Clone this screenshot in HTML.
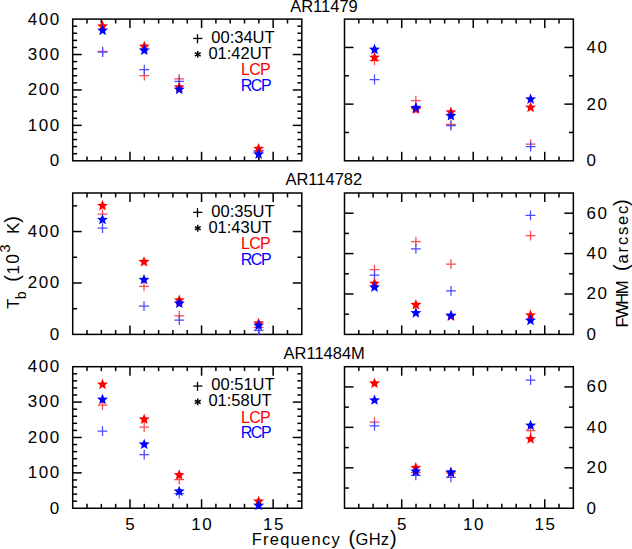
<!DOCTYPE html>
<html><head><meta charset="utf-8"><style>
html,body{margin:0;padding:0;background:#fff;width:632px;height:549px;overflow:hidden}
svg{display:block}
text{font-family:"Liberation Sans",sans-serif}
</style></head><body>
<svg width="632" height="549" viewBox="0 0 632 549">
<rect x="72.70" y="19.10" width="229.10" height="141.70" fill="none" stroke="#000" stroke-width="1.5"/>
<line x1="87.02" y1="160.80" x2="87.02" y2="156.40" stroke="#000" stroke-width="1.5"/>
<line x1="87.02" y1="19.10" x2="87.02" y2="23.50" stroke="#000" stroke-width="1.5"/>
<line x1="101.34" y1="160.80" x2="101.34" y2="156.40" stroke="#000" stroke-width="1.5"/>
<line x1="101.34" y1="19.10" x2="101.34" y2="23.50" stroke="#000" stroke-width="1.5"/>
<line x1="115.66" y1="160.80" x2="115.66" y2="156.40" stroke="#000" stroke-width="1.5"/>
<line x1="115.66" y1="19.10" x2="115.66" y2="23.50" stroke="#000" stroke-width="1.5"/>
<line x1="129.97" y1="160.80" x2="129.97" y2="151.80" stroke="#000" stroke-width="1.5"/>
<line x1="129.97" y1="19.10" x2="129.97" y2="28.10" stroke="#000" stroke-width="1.5"/>
<line x1="144.29" y1="160.80" x2="144.29" y2="156.40" stroke="#000" stroke-width="1.5"/>
<line x1="144.29" y1="19.10" x2="144.29" y2="23.50" stroke="#000" stroke-width="1.5"/>
<line x1="158.61" y1="160.80" x2="158.61" y2="156.40" stroke="#000" stroke-width="1.5"/>
<line x1="158.61" y1="19.10" x2="158.61" y2="23.50" stroke="#000" stroke-width="1.5"/>
<line x1="172.93" y1="160.80" x2="172.93" y2="156.40" stroke="#000" stroke-width="1.5"/>
<line x1="172.93" y1="19.10" x2="172.93" y2="23.50" stroke="#000" stroke-width="1.5"/>
<line x1="187.25" y1="160.80" x2="187.25" y2="156.40" stroke="#000" stroke-width="1.5"/>
<line x1="187.25" y1="19.10" x2="187.25" y2="23.50" stroke="#000" stroke-width="1.5"/>
<line x1="201.57" y1="160.80" x2="201.57" y2="151.80" stroke="#000" stroke-width="1.5"/>
<line x1="201.57" y1="19.10" x2="201.57" y2="28.10" stroke="#000" stroke-width="1.5"/>
<line x1="215.89" y1="160.80" x2="215.89" y2="156.40" stroke="#000" stroke-width="1.5"/>
<line x1="215.89" y1="19.10" x2="215.89" y2="23.50" stroke="#000" stroke-width="1.5"/>
<line x1="230.21" y1="160.80" x2="230.21" y2="156.40" stroke="#000" stroke-width="1.5"/>
<line x1="230.21" y1="19.10" x2="230.21" y2="23.50" stroke="#000" stroke-width="1.5"/>
<line x1="244.52" y1="160.80" x2="244.52" y2="156.40" stroke="#000" stroke-width="1.5"/>
<line x1="244.52" y1="19.10" x2="244.52" y2="23.50" stroke="#000" stroke-width="1.5"/>
<line x1="258.84" y1="160.80" x2="258.84" y2="156.40" stroke="#000" stroke-width="1.5"/>
<line x1="258.84" y1="19.10" x2="258.84" y2="23.50" stroke="#000" stroke-width="1.5"/>
<line x1="273.16" y1="160.80" x2="273.16" y2="151.80" stroke="#000" stroke-width="1.5"/>
<line x1="273.16" y1="19.10" x2="273.16" y2="28.10" stroke="#000" stroke-width="1.5"/>
<line x1="287.48" y1="160.80" x2="287.48" y2="156.40" stroke="#000" stroke-width="1.5"/>
<line x1="287.48" y1="19.10" x2="287.48" y2="23.50" stroke="#000" stroke-width="1.5"/>
<line x1="72.70" y1="153.71" x2="77.10" y2="153.71" stroke="#000" stroke-width="1.5"/>
<line x1="301.80" y1="153.71" x2="297.40" y2="153.71" stroke="#000" stroke-width="1.5"/>
<line x1="72.70" y1="146.63" x2="77.10" y2="146.63" stroke="#000" stroke-width="1.5"/>
<line x1="301.80" y1="146.63" x2="297.40" y2="146.63" stroke="#000" stroke-width="1.5"/>
<line x1="72.70" y1="139.54" x2="77.10" y2="139.54" stroke="#000" stroke-width="1.5"/>
<line x1="301.80" y1="139.54" x2="297.40" y2="139.54" stroke="#000" stroke-width="1.5"/>
<line x1="72.70" y1="132.46" x2="77.10" y2="132.46" stroke="#000" stroke-width="1.5"/>
<line x1="301.80" y1="132.46" x2="297.40" y2="132.46" stroke="#000" stroke-width="1.5"/>
<line x1="72.70" y1="125.37" x2="81.70" y2="125.37" stroke="#000" stroke-width="1.5"/>
<line x1="301.80" y1="125.37" x2="292.80" y2="125.37" stroke="#000" stroke-width="1.5"/>
<line x1="72.70" y1="118.29" x2="77.10" y2="118.29" stroke="#000" stroke-width="1.5"/>
<line x1="301.80" y1="118.29" x2="297.40" y2="118.29" stroke="#000" stroke-width="1.5"/>
<line x1="72.70" y1="111.20" x2="77.10" y2="111.20" stroke="#000" stroke-width="1.5"/>
<line x1="301.80" y1="111.20" x2="297.40" y2="111.20" stroke="#000" stroke-width="1.5"/>
<line x1="72.70" y1="104.12" x2="77.10" y2="104.12" stroke="#000" stroke-width="1.5"/>
<line x1="301.80" y1="104.12" x2="297.40" y2="104.12" stroke="#000" stroke-width="1.5"/>
<line x1="72.70" y1="97.03" x2="77.10" y2="97.03" stroke="#000" stroke-width="1.5"/>
<line x1="301.80" y1="97.03" x2="297.40" y2="97.03" stroke="#000" stroke-width="1.5"/>
<line x1="72.70" y1="89.95" x2="81.70" y2="89.95" stroke="#000" stroke-width="1.5"/>
<line x1="301.80" y1="89.95" x2="292.80" y2="89.95" stroke="#000" stroke-width="1.5"/>
<line x1="72.70" y1="82.86" x2="77.10" y2="82.86" stroke="#000" stroke-width="1.5"/>
<line x1="301.80" y1="82.86" x2="297.40" y2="82.86" stroke="#000" stroke-width="1.5"/>
<line x1="72.70" y1="75.78" x2="77.10" y2="75.78" stroke="#000" stroke-width="1.5"/>
<line x1="301.80" y1="75.78" x2="297.40" y2="75.78" stroke="#000" stroke-width="1.5"/>
<line x1="72.70" y1="68.69" x2="77.10" y2="68.69" stroke="#000" stroke-width="1.5"/>
<line x1="301.80" y1="68.69" x2="297.40" y2="68.69" stroke="#000" stroke-width="1.5"/>
<line x1="72.70" y1="61.61" x2="77.10" y2="61.61" stroke="#000" stroke-width="1.5"/>
<line x1="301.80" y1="61.61" x2="297.40" y2="61.61" stroke="#000" stroke-width="1.5"/>
<line x1="72.70" y1="54.52" x2="81.70" y2="54.52" stroke="#000" stroke-width="1.5"/>
<line x1="301.80" y1="54.52" x2="292.80" y2="54.52" stroke="#000" stroke-width="1.5"/>
<line x1="72.70" y1="47.44" x2="77.10" y2="47.44" stroke="#000" stroke-width="1.5"/>
<line x1="301.80" y1="47.44" x2="297.40" y2="47.44" stroke="#000" stroke-width="1.5"/>
<line x1="72.70" y1="40.36" x2="77.10" y2="40.36" stroke="#000" stroke-width="1.5"/>
<line x1="301.80" y1="40.36" x2="297.40" y2="40.36" stroke="#000" stroke-width="1.5"/>
<line x1="72.70" y1="33.27" x2="77.10" y2="33.27" stroke="#000" stroke-width="1.5"/>
<line x1="301.80" y1="33.27" x2="297.40" y2="33.27" stroke="#000" stroke-width="1.5"/>
<line x1="72.70" y1="26.19" x2="77.10" y2="26.19" stroke="#000" stroke-width="1.5"/>
<line x1="301.80" y1="26.19" x2="297.40" y2="26.19" stroke="#000" stroke-width="1.5"/>
<text x="60.70" y="166.20" font-size="17" text-anchor="end" fill="#000" letter-spacing="1.5" >0</text>
<text x="60.70" y="130.77" font-size="17" text-anchor="end" fill="#000" letter-spacing="1.5" >100</text>
<text x="60.70" y="95.35" font-size="17" text-anchor="end" fill="#000" letter-spacing="1.5" >200</text>
<text x="60.70" y="59.92" font-size="17" text-anchor="end" fill="#000" letter-spacing="1.5" >300</text>
<text x="60.70" y="24.50" font-size="17" text-anchor="end" fill="#000" letter-spacing="1.5" >400</text>
<rect x="344.50" y="19.10" width="228.85" height="141.70" fill="none" stroke="#000" stroke-width="1.5"/>
<line x1="358.80" y1="160.80" x2="358.80" y2="156.40" stroke="#000" stroke-width="1.5"/>
<line x1="358.80" y1="19.10" x2="358.80" y2="23.50" stroke="#000" stroke-width="1.5"/>
<line x1="373.11" y1="160.80" x2="373.11" y2="156.40" stroke="#000" stroke-width="1.5"/>
<line x1="373.11" y1="19.10" x2="373.11" y2="23.50" stroke="#000" stroke-width="1.5"/>
<line x1="387.41" y1="160.80" x2="387.41" y2="156.40" stroke="#000" stroke-width="1.5"/>
<line x1="387.41" y1="19.10" x2="387.41" y2="23.50" stroke="#000" stroke-width="1.5"/>
<line x1="401.71" y1="160.80" x2="401.71" y2="151.80" stroke="#000" stroke-width="1.5"/>
<line x1="401.71" y1="19.10" x2="401.71" y2="28.10" stroke="#000" stroke-width="1.5"/>
<line x1="416.02" y1="160.80" x2="416.02" y2="156.40" stroke="#000" stroke-width="1.5"/>
<line x1="416.02" y1="19.10" x2="416.02" y2="23.50" stroke="#000" stroke-width="1.5"/>
<line x1="430.32" y1="160.80" x2="430.32" y2="156.40" stroke="#000" stroke-width="1.5"/>
<line x1="430.32" y1="19.10" x2="430.32" y2="23.50" stroke="#000" stroke-width="1.5"/>
<line x1="444.62" y1="160.80" x2="444.62" y2="156.40" stroke="#000" stroke-width="1.5"/>
<line x1="444.62" y1="19.10" x2="444.62" y2="23.50" stroke="#000" stroke-width="1.5"/>
<line x1="458.93" y1="160.80" x2="458.93" y2="156.40" stroke="#000" stroke-width="1.5"/>
<line x1="458.93" y1="19.10" x2="458.93" y2="23.50" stroke="#000" stroke-width="1.5"/>
<line x1="473.23" y1="160.80" x2="473.23" y2="151.80" stroke="#000" stroke-width="1.5"/>
<line x1="473.23" y1="19.10" x2="473.23" y2="28.10" stroke="#000" stroke-width="1.5"/>
<line x1="487.53" y1="160.80" x2="487.53" y2="156.40" stroke="#000" stroke-width="1.5"/>
<line x1="487.53" y1="19.10" x2="487.53" y2="23.50" stroke="#000" stroke-width="1.5"/>
<line x1="501.83" y1="160.80" x2="501.83" y2="156.40" stroke="#000" stroke-width="1.5"/>
<line x1="501.83" y1="19.10" x2="501.83" y2="23.50" stroke="#000" stroke-width="1.5"/>
<line x1="516.14" y1="160.80" x2="516.14" y2="156.40" stroke="#000" stroke-width="1.5"/>
<line x1="516.14" y1="19.10" x2="516.14" y2="23.50" stroke="#000" stroke-width="1.5"/>
<line x1="530.44" y1="160.80" x2="530.44" y2="156.40" stroke="#000" stroke-width="1.5"/>
<line x1="530.44" y1="19.10" x2="530.44" y2="23.50" stroke="#000" stroke-width="1.5"/>
<line x1="544.74" y1="160.80" x2="544.74" y2="151.80" stroke="#000" stroke-width="1.5"/>
<line x1="544.74" y1="19.10" x2="544.74" y2="28.10" stroke="#000" stroke-width="1.5"/>
<line x1="559.05" y1="160.80" x2="559.05" y2="156.40" stroke="#000" stroke-width="1.5"/>
<line x1="559.05" y1="19.10" x2="559.05" y2="23.50" stroke="#000" stroke-width="1.5"/>
<line x1="344.50" y1="132.46" x2="348.90" y2="132.46" stroke="#000" stroke-width="1.5"/>
<line x1="573.35" y1="132.46" x2="568.95" y2="132.46" stroke="#000" stroke-width="1.5"/>
<line x1="344.50" y1="104.12" x2="353.50" y2="104.12" stroke="#000" stroke-width="1.5"/>
<line x1="573.35" y1="104.12" x2="564.35" y2="104.12" stroke="#000" stroke-width="1.5"/>
<line x1="344.50" y1="75.78" x2="348.90" y2="75.78" stroke="#000" stroke-width="1.5"/>
<line x1="573.35" y1="75.78" x2="568.95" y2="75.78" stroke="#000" stroke-width="1.5"/>
<line x1="344.50" y1="47.44" x2="353.50" y2="47.44" stroke="#000" stroke-width="1.5"/>
<line x1="573.35" y1="47.44" x2="564.35" y2="47.44" stroke="#000" stroke-width="1.5"/>
<text x="586.50" y="166.20" font-size="17" text-anchor="start" fill="#000" letter-spacing="1.5" >0</text>
<text x="586.50" y="109.52" font-size="17" text-anchor="start" fill="#000" letter-spacing="1.5" >20</text>
<text x="586.50" y="52.84" font-size="17" text-anchor="start" fill="#000" letter-spacing="1.5" >40</text>
<rect x="72.70" y="193.00" width="229.10" height="141.40" fill="none" stroke="#000" stroke-width="1.5"/>
<line x1="87.02" y1="334.40" x2="87.02" y2="330.00" stroke="#000" stroke-width="1.5"/>
<line x1="87.02" y1="193.00" x2="87.02" y2="197.40" stroke="#000" stroke-width="1.5"/>
<line x1="101.34" y1="334.40" x2="101.34" y2="330.00" stroke="#000" stroke-width="1.5"/>
<line x1="101.34" y1="193.00" x2="101.34" y2="197.40" stroke="#000" stroke-width="1.5"/>
<line x1="115.66" y1="334.40" x2="115.66" y2="330.00" stroke="#000" stroke-width="1.5"/>
<line x1="115.66" y1="193.00" x2="115.66" y2="197.40" stroke="#000" stroke-width="1.5"/>
<line x1="129.97" y1="334.40" x2="129.97" y2="325.40" stroke="#000" stroke-width="1.5"/>
<line x1="129.97" y1="193.00" x2="129.97" y2="202.00" stroke="#000" stroke-width="1.5"/>
<line x1="144.29" y1="334.40" x2="144.29" y2="330.00" stroke="#000" stroke-width="1.5"/>
<line x1="144.29" y1="193.00" x2="144.29" y2="197.40" stroke="#000" stroke-width="1.5"/>
<line x1="158.61" y1="334.40" x2="158.61" y2="330.00" stroke="#000" stroke-width="1.5"/>
<line x1="158.61" y1="193.00" x2="158.61" y2="197.40" stroke="#000" stroke-width="1.5"/>
<line x1="172.93" y1="334.40" x2="172.93" y2="330.00" stroke="#000" stroke-width="1.5"/>
<line x1="172.93" y1="193.00" x2="172.93" y2="197.40" stroke="#000" stroke-width="1.5"/>
<line x1="187.25" y1="334.40" x2="187.25" y2="330.00" stroke="#000" stroke-width="1.5"/>
<line x1="187.25" y1="193.00" x2="187.25" y2="197.40" stroke="#000" stroke-width="1.5"/>
<line x1="201.57" y1="334.40" x2="201.57" y2="325.40" stroke="#000" stroke-width="1.5"/>
<line x1="201.57" y1="193.00" x2="201.57" y2="202.00" stroke="#000" stroke-width="1.5"/>
<line x1="215.89" y1="334.40" x2="215.89" y2="330.00" stroke="#000" stroke-width="1.5"/>
<line x1="215.89" y1="193.00" x2="215.89" y2="197.40" stroke="#000" stroke-width="1.5"/>
<line x1="230.21" y1="334.40" x2="230.21" y2="330.00" stroke="#000" stroke-width="1.5"/>
<line x1="230.21" y1="193.00" x2="230.21" y2="197.40" stroke="#000" stroke-width="1.5"/>
<line x1="244.52" y1="334.40" x2="244.52" y2="330.00" stroke="#000" stroke-width="1.5"/>
<line x1="244.52" y1="193.00" x2="244.52" y2="197.40" stroke="#000" stroke-width="1.5"/>
<line x1="258.84" y1="334.40" x2="258.84" y2="330.00" stroke="#000" stroke-width="1.5"/>
<line x1="258.84" y1="193.00" x2="258.84" y2="197.40" stroke="#000" stroke-width="1.5"/>
<line x1="273.16" y1="334.40" x2="273.16" y2="325.40" stroke="#000" stroke-width="1.5"/>
<line x1="273.16" y1="193.00" x2="273.16" y2="202.00" stroke="#000" stroke-width="1.5"/>
<line x1="287.48" y1="334.40" x2="287.48" y2="330.00" stroke="#000" stroke-width="1.5"/>
<line x1="287.48" y1="193.00" x2="287.48" y2="197.40" stroke="#000" stroke-width="1.5"/>
<line x1="72.70" y1="308.69" x2="77.10" y2="308.69" stroke="#000" stroke-width="1.5"/>
<line x1="301.80" y1="308.69" x2="297.40" y2="308.69" stroke="#000" stroke-width="1.5"/>
<line x1="72.70" y1="282.98" x2="81.70" y2="282.98" stroke="#000" stroke-width="1.5"/>
<line x1="301.80" y1="282.98" x2="292.80" y2="282.98" stroke="#000" stroke-width="1.5"/>
<line x1="72.70" y1="257.27" x2="77.10" y2="257.27" stroke="#000" stroke-width="1.5"/>
<line x1="301.80" y1="257.27" x2="297.40" y2="257.27" stroke="#000" stroke-width="1.5"/>
<line x1="72.70" y1="231.56" x2="81.70" y2="231.56" stroke="#000" stroke-width="1.5"/>
<line x1="301.80" y1="231.56" x2="292.80" y2="231.56" stroke="#000" stroke-width="1.5"/>
<line x1="72.70" y1="205.85" x2="77.10" y2="205.85" stroke="#000" stroke-width="1.5"/>
<line x1="301.80" y1="205.85" x2="297.40" y2="205.85" stroke="#000" stroke-width="1.5"/>
<text x="60.70" y="339.80" font-size="17" text-anchor="end" fill="#000" letter-spacing="1.5" >0</text>
<text x="60.70" y="288.38" font-size="17" text-anchor="end" fill="#000" letter-spacing="1.5" >200</text>
<text x="60.70" y="236.96" font-size="17" text-anchor="end" fill="#000" letter-spacing="1.5" >400</text>
<rect x="344.50" y="193.00" width="228.85" height="141.40" fill="none" stroke="#000" stroke-width="1.5"/>
<line x1="358.80" y1="334.40" x2="358.80" y2="330.00" stroke="#000" stroke-width="1.5"/>
<line x1="358.80" y1="193.00" x2="358.80" y2="197.40" stroke="#000" stroke-width="1.5"/>
<line x1="373.11" y1="334.40" x2="373.11" y2="330.00" stroke="#000" stroke-width="1.5"/>
<line x1="373.11" y1="193.00" x2="373.11" y2="197.40" stroke="#000" stroke-width="1.5"/>
<line x1="387.41" y1="334.40" x2="387.41" y2="330.00" stroke="#000" stroke-width="1.5"/>
<line x1="387.41" y1="193.00" x2="387.41" y2="197.40" stroke="#000" stroke-width="1.5"/>
<line x1="401.71" y1="334.40" x2="401.71" y2="325.40" stroke="#000" stroke-width="1.5"/>
<line x1="401.71" y1="193.00" x2="401.71" y2="202.00" stroke="#000" stroke-width="1.5"/>
<line x1="416.02" y1="334.40" x2="416.02" y2="330.00" stroke="#000" stroke-width="1.5"/>
<line x1="416.02" y1="193.00" x2="416.02" y2="197.40" stroke="#000" stroke-width="1.5"/>
<line x1="430.32" y1="334.40" x2="430.32" y2="330.00" stroke="#000" stroke-width="1.5"/>
<line x1="430.32" y1="193.00" x2="430.32" y2="197.40" stroke="#000" stroke-width="1.5"/>
<line x1="444.62" y1="334.40" x2="444.62" y2="330.00" stroke="#000" stroke-width="1.5"/>
<line x1="444.62" y1="193.00" x2="444.62" y2="197.40" stroke="#000" stroke-width="1.5"/>
<line x1="458.93" y1="334.40" x2="458.93" y2="330.00" stroke="#000" stroke-width="1.5"/>
<line x1="458.93" y1="193.00" x2="458.93" y2="197.40" stroke="#000" stroke-width="1.5"/>
<line x1="473.23" y1="334.40" x2="473.23" y2="325.40" stroke="#000" stroke-width="1.5"/>
<line x1="473.23" y1="193.00" x2="473.23" y2="202.00" stroke="#000" stroke-width="1.5"/>
<line x1="487.53" y1="334.40" x2="487.53" y2="330.00" stroke="#000" stroke-width="1.5"/>
<line x1="487.53" y1="193.00" x2="487.53" y2="197.40" stroke="#000" stroke-width="1.5"/>
<line x1="501.83" y1="334.40" x2="501.83" y2="330.00" stroke="#000" stroke-width="1.5"/>
<line x1="501.83" y1="193.00" x2="501.83" y2="197.40" stroke="#000" stroke-width="1.5"/>
<line x1="516.14" y1="334.40" x2="516.14" y2="330.00" stroke="#000" stroke-width="1.5"/>
<line x1="516.14" y1="193.00" x2="516.14" y2="197.40" stroke="#000" stroke-width="1.5"/>
<line x1="530.44" y1="334.40" x2="530.44" y2="330.00" stroke="#000" stroke-width="1.5"/>
<line x1="530.44" y1="193.00" x2="530.44" y2="197.40" stroke="#000" stroke-width="1.5"/>
<line x1="544.74" y1="334.40" x2="544.74" y2="325.40" stroke="#000" stroke-width="1.5"/>
<line x1="544.74" y1="193.00" x2="544.74" y2="202.00" stroke="#000" stroke-width="1.5"/>
<line x1="559.05" y1="334.40" x2="559.05" y2="330.00" stroke="#000" stroke-width="1.5"/>
<line x1="559.05" y1="193.00" x2="559.05" y2="197.40" stroke="#000" stroke-width="1.5"/>
<line x1="344.50" y1="314.20" x2="348.90" y2="314.20" stroke="#000" stroke-width="1.5"/>
<line x1="573.35" y1="314.20" x2="568.95" y2="314.20" stroke="#000" stroke-width="1.5"/>
<line x1="344.50" y1="294.00" x2="353.50" y2="294.00" stroke="#000" stroke-width="1.5"/>
<line x1="573.35" y1="294.00" x2="564.35" y2="294.00" stroke="#000" stroke-width="1.5"/>
<line x1="344.50" y1="273.80" x2="348.90" y2="273.80" stroke="#000" stroke-width="1.5"/>
<line x1="573.35" y1="273.80" x2="568.95" y2="273.80" stroke="#000" stroke-width="1.5"/>
<line x1="344.50" y1="253.60" x2="353.50" y2="253.60" stroke="#000" stroke-width="1.5"/>
<line x1="573.35" y1="253.60" x2="564.35" y2="253.60" stroke="#000" stroke-width="1.5"/>
<line x1="344.50" y1="233.40" x2="348.90" y2="233.40" stroke="#000" stroke-width="1.5"/>
<line x1="573.35" y1="233.40" x2="568.95" y2="233.40" stroke="#000" stroke-width="1.5"/>
<line x1="344.50" y1="213.20" x2="353.50" y2="213.20" stroke="#000" stroke-width="1.5"/>
<line x1="573.35" y1="213.20" x2="564.35" y2="213.20" stroke="#000" stroke-width="1.5"/>
<text x="586.50" y="339.80" font-size="17" text-anchor="start" fill="#000" letter-spacing="1.5" >0</text>
<text x="586.50" y="299.40" font-size="17" text-anchor="start" fill="#000" letter-spacing="1.5" >20</text>
<text x="586.50" y="259.00" font-size="17" text-anchor="start" fill="#000" letter-spacing="1.5" >40</text>
<text x="586.50" y="218.60" font-size="17" text-anchor="start" fill="#000" letter-spacing="1.5" >60</text>
<rect x="72.70" y="366.70" width="229.10" height="141.55" fill="none" stroke="#000" stroke-width="1.5"/>
<line x1="87.02" y1="508.25" x2="87.02" y2="503.85" stroke="#000" stroke-width="1.5"/>
<line x1="87.02" y1="366.70" x2="87.02" y2="371.10" stroke="#000" stroke-width="1.5"/>
<line x1="101.34" y1="508.25" x2="101.34" y2="503.85" stroke="#000" stroke-width="1.5"/>
<line x1="101.34" y1="366.70" x2="101.34" y2="371.10" stroke="#000" stroke-width="1.5"/>
<line x1="115.66" y1="508.25" x2="115.66" y2="503.85" stroke="#000" stroke-width="1.5"/>
<line x1="115.66" y1="366.70" x2="115.66" y2="371.10" stroke="#000" stroke-width="1.5"/>
<line x1="129.97" y1="508.25" x2="129.97" y2="499.25" stroke="#000" stroke-width="1.5"/>
<line x1="129.97" y1="366.70" x2="129.97" y2="375.70" stroke="#000" stroke-width="1.5"/>
<line x1="144.29" y1="508.25" x2="144.29" y2="503.85" stroke="#000" stroke-width="1.5"/>
<line x1="144.29" y1="366.70" x2="144.29" y2="371.10" stroke="#000" stroke-width="1.5"/>
<line x1="158.61" y1="508.25" x2="158.61" y2="503.85" stroke="#000" stroke-width="1.5"/>
<line x1="158.61" y1="366.70" x2="158.61" y2="371.10" stroke="#000" stroke-width="1.5"/>
<line x1="172.93" y1="508.25" x2="172.93" y2="503.85" stroke="#000" stroke-width="1.5"/>
<line x1="172.93" y1="366.70" x2="172.93" y2="371.10" stroke="#000" stroke-width="1.5"/>
<line x1="187.25" y1="508.25" x2="187.25" y2="503.85" stroke="#000" stroke-width="1.5"/>
<line x1="187.25" y1="366.70" x2="187.25" y2="371.10" stroke="#000" stroke-width="1.5"/>
<line x1="201.57" y1="508.25" x2="201.57" y2="499.25" stroke="#000" stroke-width="1.5"/>
<line x1="201.57" y1="366.70" x2="201.57" y2="375.70" stroke="#000" stroke-width="1.5"/>
<line x1="215.89" y1="508.25" x2="215.89" y2="503.85" stroke="#000" stroke-width="1.5"/>
<line x1="215.89" y1="366.70" x2="215.89" y2="371.10" stroke="#000" stroke-width="1.5"/>
<line x1="230.21" y1="508.25" x2="230.21" y2="503.85" stroke="#000" stroke-width="1.5"/>
<line x1="230.21" y1="366.70" x2="230.21" y2="371.10" stroke="#000" stroke-width="1.5"/>
<line x1="244.52" y1="508.25" x2="244.52" y2="503.85" stroke="#000" stroke-width="1.5"/>
<line x1="244.52" y1="366.70" x2="244.52" y2="371.10" stroke="#000" stroke-width="1.5"/>
<line x1="258.84" y1="508.25" x2="258.84" y2="503.85" stroke="#000" stroke-width="1.5"/>
<line x1="258.84" y1="366.70" x2="258.84" y2="371.10" stroke="#000" stroke-width="1.5"/>
<line x1="273.16" y1="508.25" x2="273.16" y2="499.25" stroke="#000" stroke-width="1.5"/>
<line x1="273.16" y1="366.70" x2="273.16" y2="375.70" stroke="#000" stroke-width="1.5"/>
<line x1="287.48" y1="508.25" x2="287.48" y2="503.85" stroke="#000" stroke-width="1.5"/>
<line x1="287.48" y1="366.70" x2="287.48" y2="371.10" stroke="#000" stroke-width="1.5"/>
<line x1="72.70" y1="501.17" x2="77.10" y2="501.17" stroke="#000" stroke-width="1.5"/>
<line x1="301.80" y1="501.17" x2="297.40" y2="501.17" stroke="#000" stroke-width="1.5"/>
<line x1="72.70" y1="494.10" x2="77.10" y2="494.10" stroke="#000" stroke-width="1.5"/>
<line x1="301.80" y1="494.10" x2="297.40" y2="494.10" stroke="#000" stroke-width="1.5"/>
<line x1="72.70" y1="487.02" x2="77.10" y2="487.02" stroke="#000" stroke-width="1.5"/>
<line x1="301.80" y1="487.02" x2="297.40" y2="487.02" stroke="#000" stroke-width="1.5"/>
<line x1="72.70" y1="479.94" x2="77.10" y2="479.94" stroke="#000" stroke-width="1.5"/>
<line x1="301.80" y1="479.94" x2="297.40" y2="479.94" stroke="#000" stroke-width="1.5"/>
<line x1="72.70" y1="472.86" x2="81.70" y2="472.86" stroke="#000" stroke-width="1.5"/>
<line x1="301.80" y1="472.86" x2="292.80" y2="472.86" stroke="#000" stroke-width="1.5"/>
<line x1="72.70" y1="465.78" x2="77.10" y2="465.78" stroke="#000" stroke-width="1.5"/>
<line x1="301.80" y1="465.78" x2="297.40" y2="465.78" stroke="#000" stroke-width="1.5"/>
<line x1="72.70" y1="458.71" x2="77.10" y2="458.71" stroke="#000" stroke-width="1.5"/>
<line x1="301.80" y1="458.71" x2="297.40" y2="458.71" stroke="#000" stroke-width="1.5"/>
<line x1="72.70" y1="451.63" x2="77.10" y2="451.63" stroke="#000" stroke-width="1.5"/>
<line x1="301.80" y1="451.63" x2="297.40" y2="451.63" stroke="#000" stroke-width="1.5"/>
<line x1="72.70" y1="444.55" x2="77.10" y2="444.55" stroke="#000" stroke-width="1.5"/>
<line x1="301.80" y1="444.55" x2="297.40" y2="444.55" stroke="#000" stroke-width="1.5"/>
<line x1="72.70" y1="437.48" x2="81.70" y2="437.48" stroke="#000" stroke-width="1.5"/>
<line x1="301.80" y1="437.48" x2="292.80" y2="437.48" stroke="#000" stroke-width="1.5"/>
<line x1="72.70" y1="430.40" x2="77.10" y2="430.40" stroke="#000" stroke-width="1.5"/>
<line x1="301.80" y1="430.40" x2="297.40" y2="430.40" stroke="#000" stroke-width="1.5"/>
<line x1="72.70" y1="423.32" x2="77.10" y2="423.32" stroke="#000" stroke-width="1.5"/>
<line x1="301.80" y1="423.32" x2="297.40" y2="423.32" stroke="#000" stroke-width="1.5"/>
<line x1="72.70" y1="416.24" x2="77.10" y2="416.24" stroke="#000" stroke-width="1.5"/>
<line x1="301.80" y1="416.24" x2="297.40" y2="416.24" stroke="#000" stroke-width="1.5"/>
<line x1="72.70" y1="409.17" x2="77.10" y2="409.17" stroke="#000" stroke-width="1.5"/>
<line x1="301.80" y1="409.17" x2="297.40" y2="409.17" stroke="#000" stroke-width="1.5"/>
<line x1="72.70" y1="402.09" x2="81.70" y2="402.09" stroke="#000" stroke-width="1.5"/>
<line x1="301.80" y1="402.09" x2="292.80" y2="402.09" stroke="#000" stroke-width="1.5"/>
<line x1="72.70" y1="395.01" x2="77.10" y2="395.01" stroke="#000" stroke-width="1.5"/>
<line x1="301.80" y1="395.01" x2="297.40" y2="395.01" stroke="#000" stroke-width="1.5"/>
<line x1="72.70" y1="387.93" x2="77.10" y2="387.93" stroke="#000" stroke-width="1.5"/>
<line x1="301.80" y1="387.93" x2="297.40" y2="387.93" stroke="#000" stroke-width="1.5"/>
<line x1="72.70" y1="380.85" x2="77.10" y2="380.85" stroke="#000" stroke-width="1.5"/>
<line x1="301.80" y1="380.85" x2="297.40" y2="380.85" stroke="#000" stroke-width="1.5"/>
<line x1="72.70" y1="373.78" x2="77.10" y2="373.78" stroke="#000" stroke-width="1.5"/>
<line x1="301.80" y1="373.78" x2="297.40" y2="373.78" stroke="#000" stroke-width="1.5"/>
<text x="60.70" y="513.65" font-size="17" text-anchor="end" fill="#000" letter-spacing="1.5" >0</text>
<text x="60.70" y="478.26" font-size="17" text-anchor="end" fill="#000" letter-spacing="1.5" >100</text>
<text x="60.70" y="442.88" font-size="17" text-anchor="end" fill="#000" letter-spacing="1.5" >200</text>
<text x="60.70" y="407.49" font-size="17" text-anchor="end" fill="#000" letter-spacing="1.5" >300</text>
<text x="60.70" y="372.10" font-size="17" text-anchor="end" fill="#000" letter-spacing="1.5" >400</text>
<rect x="344.50" y="366.70" width="228.85" height="141.55" fill="none" stroke="#000" stroke-width="1.5"/>
<line x1="358.80" y1="508.25" x2="358.80" y2="503.85" stroke="#000" stroke-width="1.5"/>
<line x1="358.80" y1="366.70" x2="358.80" y2="371.10" stroke="#000" stroke-width="1.5"/>
<line x1="373.11" y1="508.25" x2="373.11" y2="503.85" stroke="#000" stroke-width="1.5"/>
<line x1="373.11" y1="366.70" x2="373.11" y2="371.10" stroke="#000" stroke-width="1.5"/>
<line x1="387.41" y1="508.25" x2="387.41" y2="503.85" stroke="#000" stroke-width="1.5"/>
<line x1="387.41" y1="366.70" x2="387.41" y2="371.10" stroke="#000" stroke-width="1.5"/>
<line x1="401.71" y1="508.25" x2="401.71" y2="499.25" stroke="#000" stroke-width="1.5"/>
<line x1="401.71" y1="366.70" x2="401.71" y2="375.70" stroke="#000" stroke-width="1.5"/>
<line x1="416.02" y1="508.25" x2="416.02" y2="503.85" stroke="#000" stroke-width="1.5"/>
<line x1="416.02" y1="366.70" x2="416.02" y2="371.10" stroke="#000" stroke-width="1.5"/>
<line x1="430.32" y1="508.25" x2="430.32" y2="503.85" stroke="#000" stroke-width="1.5"/>
<line x1="430.32" y1="366.70" x2="430.32" y2="371.10" stroke="#000" stroke-width="1.5"/>
<line x1="444.62" y1="508.25" x2="444.62" y2="503.85" stroke="#000" stroke-width="1.5"/>
<line x1="444.62" y1="366.70" x2="444.62" y2="371.10" stroke="#000" stroke-width="1.5"/>
<line x1="458.93" y1="508.25" x2="458.93" y2="503.85" stroke="#000" stroke-width="1.5"/>
<line x1="458.93" y1="366.70" x2="458.93" y2="371.10" stroke="#000" stroke-width="1.5"/>
<line x1="473.23" y1="508.25" x2="473.23" y2="499.25" stroke="#000" stroke-width="1.5"/>
<line x1="473.23" y1="366.70" x2="473.23" y2="375.70" stroke="#000" stroke-width="1.5"/>
<line x1="487.53" y1="508.25" x2="487.53" y2="503.85" stroke="#000" stroke-width="1.5"/>
<line x1="487.53" y1="366.70" x2="487.53" y2="371.10" stroke="#000" stroke-width="1.5"/>
<line x1="501.83" y1="508.25" x2="501.83" y2="503.85" stroke="#000" stroke-width="1.5"/>
<line x1="501.83" y1="366.70" x2="501.83" y2="371.10" stroke="#000" stroke-width="1.5"/>
<line x1="516.14" y1="508.25" x2="516.14" y2="503.85" stroke="#000" stroke-width="1.5"/>
<line x1="516.14" y1="366.70" x2="516.14" y2="371.10" stroke="#000" stroke-width="1.5"/>
<line x1="530.44" y1="508.25" x2="530.44" y2="503.85" stroke="#000" stroke-width="1.5"/>
<line x1="530.44" y1="366.70" x2="530.44" y2="371.10" stroke="#000" stroke-width="1.5"/>
<line x1="544.74" y1="508.25" x2="544.74" y2="499.25" stroke="#000" stroke-width="1.5"/>
<line x1="544.74" y1="366.70" x2="544.74" y2="375.70" stroke="#000" stroke-width="1.5"/>
<line x1="559.05" y1="508.25" x2="559.05" y2="503.85" stroke="#000" stroke-width="1.5"/>
<line x1="559.05" y1="366.70" x2="559.05" y2="371.10" stroke="#000" stroke-width="1.5"/>
<line x1="344.50" y1="488.03" x2="348.90" y2="488.03" stroke="#000" stroke-width="1.5"/>
<line x1="573.35" y1="488.03" x2="568.95" y2="488.03" stroke="#000" stroke-width="1.5"/>
<line x1="344.50" y1="467.81" x2="353.50" y2="467.81" stroke="#000" stroke-width="1.5"/>
<line x1="573.35" y1="467.81" x2="564.35" y2="467.81" stroke="#000" stroke-width="1.5"/>
<line x1="344.50" y1="447.59" x2="348.90" y2="447.59" stroke="#000" stroke-width="1.5"/>
<line x1="573.35" y1="447.59" x2="568.95" y2="447.59" stroke="#000" stroke-width="1.5"/>
<line x1="344.50" y1="427.36" x2="353.50" y2="427.36" stroke="#000" stroke-width="1.5"/>
<line x1="573.35" y1="427.36" x2="564.35" y2="427.36" stroke="#000" stroke-width="1.5"/>
<line x1="344.50" y1="407.14" x2="348.90" y2="407.14" stroke="#000" stroke-width="1.5"/>
<line x1="573.35" y1="407.14" x2="568.95" y2="407.14" stroke="#000" stroke-width="1.5"/>
<line x1="344.50" y1="386.92" x2="353.50" y2="386.92" stroke="#000" stroke-width="1.5"/>
<line x1="573.35" y1="386.92" x2="564.35" y2="386.92" stroke="#000" stroke-width="1.5"/>
<text x="586.50" y="513.65" font-size="17" text-anchor="start" fill="#000" letter-spacing="1.5" >0</text>
<text x="586.50" y="473.21" font-size="17" text-anchor="start" fill="#000" letter-spacing="1.5" >20</text>
<text x="586.50" y="432.76" font-size="17" text-anchor="start" fill="#000" letter-spacing="1.5" >40</text>
<text x="586.50" y="392.32" font-size="17" text-anchor="start" fill="#000" letter-spacing="1.5" >60</text>
<text x="130.72" y="530.00" font-size="17" text-anchor="middle" fill="#000" letter-spacing="1.5" >5</text>
<text x="202.32" y="530.00" font-size="17" text-anchor="middle" fill="#000" letter-spacing="1.5" >10</text>
<text x="273.91" y="530.00" font-size="17" text-anchor="middle" fill="#000" letter-spacing="1.5" >15</text>
<text x="402.46" y="530.00" font-size="17" text-anchor="middle" fill="#000" letter-spacing="1.5" >5</text>
<text x="473.98" y="530.00" font-size="17" text-anchor="middle" fill="#000" letter-spacing="1.5" >10</text>
<text x="545.49" y="530.00" font-size="17" text-anchor="middle" fill="#000" letter-spacing="1.5" >15</text>
<text x="324.00" y="11.60" font-size="16.5" text-anchor="middle" fill="#000" >AR11479</text>
<text x="323.80" y="185.30" font-size="16.5" text-anchor="middle" fill="#000" >AR114782</text>
<text x="324.20" y="358.90" font-size="16.5" text-anchor="middle" fill="#000" >AR11484M</text>
<text x="251.70" y="544.50" font-size="16.5" text-anchor="start" fill="#000" letter-spacing="1.25" >Frequency</text>
<text x="348.50" y="544.50" font-size="20" text-anchor="start" fill="#000" >(</text>
<text x="355.60" y="544.50" font-size="16.5" text-anchor="start" fill="#000" letter-spacing="0.2" >GHz</text>
<text x="389.90" y="544.50" font-size="20" text-anchor="start" fill="#000" >)</text>
<line x1="193.20" y1="38.45" x2="202.40" y2="38.45" stroke="#000" stroke-width="1.3"/>
<line x1="197.50" y1="34.20" x2="197.50" y2="43.30" stroke="#000" stroke-width="1.3"/>
<line x1="197.75" y1="50.95" x2="197.75" y2="57.75" stroke="#000" stroke-width="1.45"/>
<line x1="194.81" y1="52.65" x2="200.69" y2="56.05" stroke="#000" stroke-width="1.45"/>
<line x1="194.81" y1="56.05" x2="200.69" y2="52.65" stroke="#000" stroke-width="1.45"/>
<text x="211.30" y="42.80" font-size="16.5" text-anchor="start" fill="#000" >00:34UT</text>
<text x="208.40" y="58.80" font-size="16.5" text-anchor="start" fill="#000" >01:42UT</text>
<text x="241.00" y="75.20" font-size="16" text-anchor="start" fill="#ff0000" letter-spacing="-0.7" >LCP</text>
<text x="240.70" y="90.80" font-size="16" text-anchor="start" fill="#0000ff" letter-spacing="-1.4" >RCP</text>
<line x1="193.20" y1="212.35" x2="202.40" y2="212.35" stroke="#000" stroke-width="1.3"/>
<line x1="197.50" y1="208.10" x2="197.50" y2="217.20" stroke="#000" stroke-width="1.3"/>
<line x1="197.75" y1="224.85" x2="197.75" y2="231.65" stroke="#000" stroke-width="1.45"/>
<line x1="194.81" y1="226.55" x2="200.69" y2="229.95" stroke="#000" stroke-width="1.45"/>
<line x1="194.81" y1="229.95" x2="200.69" y2="226.55" stroke="#000" stroke-width="1.45"/>
<text x="211.30" y="216.70" font-size="16.5" text-anchor="start" fill="#000" >00:35UT</text>
<text x="208.40" y="232.70" font-size="16.5" text-anchor="start" fill="#000" >01:43UT</text>
<text x="241.00" y="249.10" font-size="16" text-anchor="start" fill="#ff0000" letter-spacing="-0.7" >LCP</text>
<text x="240.70" y="264.70" font-size="16" text-anchor="start" fill="#0000ff" letter-spacing="-1.4" >RCP</text>
<line x1="193.20" y1="386.05" x2="202.40" y2="386.05" stroke="#000" stroke-width="1.3"/>
<line x1="197.50" y1="381.80" x2="197.50" y2="390.90" stroke="#000" stroke-width="1.3"/>
<line x1="197.75" y1="398.55" x2="197.75" y2="405.35" stroke="#000" stroke-width="1.45"/>
<line x1="194.81" y1="400.25" x2="200.69" y2="403.65" stroke="#000" stroke-width="1.45"/>
<line x1="194.81" y1="403.65" x2="200.69" y2="400.25" stroke="#000" stroke-width="1.45"/>
<text x="211.30" y="390.40" font-size="16.5" text-anchor="start" fill="#000" >00:51UT</text>
<text x="208.40" y="406.40" font-size="16.5" text-anchor="start" fill="#000" >01:58UT</text>
<text x="241.00" y="422.80" font-size="16" text-anchor="start" fill="#ff0000" letter-spacing="-0.7" >LCP</text>
<text x="240.70" y="438.40" font-size="16" text-anchor="start" fill="#0000ff" letter-spacing="-1.4" >RCP</text>
<g transform="translate(18.7,309.1) rotate(-90)" font-size="16.5"><text x="0.4" y="0">T</text><text x="9.8" y="7.0" font-size="14">b</text><text x="27.4" y="0" font-size="20">(</text><text x="34.5" y="0" font-size="17">1</text><text x="45.3" y="0" font-size="17.5">0</text><text x="56.5" y="-9.1" font-size="14.5">3</text><text x="75.2" y="0" font-size="17">K</text><text x="86.3" y="0" font-size="20">)</text></g>
<g transform="translate(627.9,0) rotate(-90)" font-size="16.5"><text x="-327.4" y="0" letter-spacing="-1.5">FWHM</text><text x="-271.1" y="0" font-size="20">(</text><text x="-263.4" y="0" letter-spacing="1.8">arcsec</text><text x="-206" y="0" font-size="20">)</text></g>
<path d="M97.70 51.30H107.50M102.60 46.40V56.20" stroke="#ff4a4a" stroke-width="1.25" fill="none"/>
<path d="M97.70 52.10H107.50M102.60 47.20V57.00" stroke="#4a4aff" stroke-width="1.25" fill="none"/>
<polygon points="102.60,20.55 104.09,24.25 108.07,24.52 105.01,27.08 105.98,30.95 102.60,28.83 99.22,30.95 100.19,27.08 97.13,24.52 101.11,24.25" fill="#ff0000"/>
<polygon points="102.60,24.75 104.09,28.45 108.07,28.72 105.01,31.28 105.98,35.15 102.60,33.03 99.22,35.15 100.19,31.28 97.13,28.72 101.11,28.45" fill="#0000ff"/>
<path d="M139.40 75.50H149.20M144.30 70.60V80.40" stroke="#ff4a4a" stroke-width="1.25" fill="none"/>
<path d="M139.40 69.60H149.20M144.30 64.70V74.50" stroke="#4a4aff" stroke-width="1.25" fill="none"/>
<polygon points="144.30,40.75 145.79,44.45 149.77,44.72 146.71,47.28 147.68,51.15 144.30,49.03 140.92,51.15 141.89,47.28 138.83,44.72 142.81,44.45" fill="#ff0000"/>
<polygon points="144.30,44.65 145.79,48.35 149.77,48.62 146.71,51.18 147.68,55.05 144.30,52.93 140.92,55.05 141.89,51.18 138.83,48.62 142.81,48.35" fill="#0000ff"/>
<path d="M174.30 78.80H184.10M179.20 73.90V83.70" stroke="#ff4a4a" stroke-width="1.25" fill="none"/>
<path d="M174.30 81.30H184.10M179.20 76.40V86.20" stroke="#4a4aff" stroke-width="1.25" fill="none"/>
<polygon points="179.20,81.55 180.69,85.25 184.67,85.52 181.61,88.08 182.58,91.95 179.20,89.83 175.82,91.95 176.79,88.08 173.73,85.52 177.71,85.25" fill="#ff0000"/>
<polygon points="179.20,83.75 180.69,87.45 184.67,87.72 181.61,90.28 182.58,94.15 179.20,92.03 175.82,94.15 176.79,90.28 173.73,87.72 177.71,87.45" fill="#0000ff"/>
<path d="M253.70 150.60H263.50M258.60 145.70V155.50" stroke="#ff4a4a" stroke-width="1.25" fill="none"/>
<path d="M253.70 151.00H263.50M258.60 146.10V155.90" stroke="#4a4aff" stroke-width="1.25" fill="none"/>
<polygon points="258.60,142.95 260.09,146.65 264.07,146.92 261.01,149.48 261.98,153.35 258.60,151.23 255.22,153.35 256.19,149.48 253.13,146.92 257.11,146.65" fill="#ff0000"/>
<polygon points="258.60,148.55 260.09,152.25 264.07,152.52 261.01,155.08 261.98,158.95 258.60,156.83 255.22,158.95 256.19,155.08 253.13,152.52 257.11,152.25" fill="#0000ff"/>
<path d="M369.60 60.30H379.40M374.50 55.40V65.20" stroke="#ff4a4a" stroke-width="1.25" fill="none"/>
<path d="M369.60 79.50H379.40M374.50 74.60V84.40" stroke="#4a4aff" stroke-width="1.25" fill="none"/>
<polygon points="374.50,43.85 375.99,47.55 379.97,47.82 376.91,50.38 377.88,54.25 374.50,52.13 371.12,54.25 372.09,50.38 369.03,47.82 373.01,47.55" fill="#0000ff"/>
<polygon points="374.50,51.75 375.99,55.45 379.97,55.72 376.91,58.28 377.88,62.15 374.50,60.03 371.12,62.15 372.09,58.28 369.03,55.72 373.01,55.45" fill="#ff0000"/>
<path d="M411.00 100.60H420.80M415.90 95.70V105.50" stroke="#ff4a4a" stroke-width="1.25" fill="none"/>
<path d="M411.00 107.50H420.80M415.90 102.60V112.40" stroke="#4a4aff" stroke-width="1.25" fill="none"/>
<polygon points="415.90,103.65 417.39,107.35 421.37,107.62 418.31,110.18 419.28,114.05 415.90,111.93 412.52,114.05 413.49,110.18 410.43,107.62 414.41,107.35" fill="#ff0000"/>
<polygon points="415.90,102.05 417.39,105.75 421.37,106.02 418.31,108.58 419.28,112.45 415.90,110.33 412.52,112.45 413.49,108.58 410.43,106.02 414.41,105.75" fill="#0000ff"/>
<path d="M446.00 124.30H455.80M450.90 119.40V129.20" stroke="#ff4a4a" stroke-width="1.25" fill="none"/>
<path d="M446.00 125.60H455.80M450.90 120.70V130.50" stroke="#4a4aff" stroke-width="1.25" fill="none"/>
<polygon points="450.90,106.55 452.39,110.25 456.37,110.52 453.31,113.08 454.28,116.95 450.90,114.83 447.52,116.95 448.49,113.08 445.43,110.52 449.41,110.25" fill="#ff0000"/>
<polygon points="450.90,110.15 452.39,113.85 456.37,114.12 453.31,116.68 454.28,120.55 450.90,118.43 447.52,120.55 448.49,116.68 445.43,114.12 449.41,113.85" fill="#0000ff"/>
<path d="M525.70 144.10H535.50M530.60 139.20V149.00" stroke="#ff4a4a" stroke-width="1.25" fill="none"/>
<path d="M525.70 146.50H535.50M530.60 141.60V151.40" stroke="#4a4aff" stroke-width="1.25" fill="none"/>
<polygon points="530.60,93.55 532.09,97.25 536.07,97.52 533.01,100.08 533.98,103.95 530.60,101.83 527.22,103.95 528.19,100.08 525.13,97.52 529.11,97.25" fill="#0000ff"/>
<polygon points="530.60,101.75 532.09,105.45 536.07,105.72 533.01,108.28 533.98,112.15 530.60,110.03 527.22,112.15 528.19,108.28 525.13,105.72 529.11,105.45" fill="#ff0000"/>
<path d="M97.60 214.20H107.40M102.50 209.30V219.10" stroke="#ff4a4a" stroke-width="1.25" fill="none"/>
<path d="M97.60 228.20H107.40M102.50 223.30V233.10" stroke="#4a4aff" stroke-width="1.25" fill="none"/>
<polygon points="102.50,200.05 103.99,203.75 107.97,204.02 104.91,206.58 105.88,210.45 102.50,208.33 99.12,210.45 100.09,206.58 97.03,204.02 101.01,203.75" fill="#ff0000"/>
<polygon points="102.50,213.95 103.99,217.65 107.97,217.92 104.91,220.48 105.88,224.35 102.50,222.23 99.12,224.35 100.09,220.48 97.03,217.92 101.01,217.65" fill="#0000ff"/>
<path d="M139.10 286.30H148.90M144.00 281.40V291.20" stroke="#ff4a4a" stroke-width="1.25" fill="none"/>
<path d="M139.10 306.00H148.90M144.00 301.10V310.90" stroke="#4a4aff" stroke-width="1.25" fill="none"/>
<polygon points="144.00,256.15 145.49,259.85 149.47,260.12 146.41,262.68 147.38,266.55 144.00,264.43 140.62,266.55 141.59,262.68 138.53,260.12 142.51,259.85" fill="#ff0000"/>
<polygon points="144.00,273.95 145.49,277.65 149.47,277.92 146.41,280.48 147.38,284.35 144.00,282.23 140.62,284.35 141.59,280.48 138.53,277.92 142.51,277.65" fill="#0000ff"/>
<path d="M174.40 315.90H184.20M179.30 311.00V320.80" stroke="#ff4a4a" stroke-width="1.25" fill="none"/>
<path d="M174.40 320.00H184.20M179.30 315.10V324.90" stroke="#4a4aff" stroke-width="1.25" fill="none"/>
<polygon points="179.30,294.55 180.79,298.25 184.77,298.52 181.71,301.08 182.68,304.95 179.30,302.83 175.92,304.95 176.89,301.08 173.83,298.52 177.81,298.25" fill="#ff0000"/>
<polygon points="179.30,297.65 180.79,301.35 184.77,301.62 181.71,304.18 182.68,308.05 179.30,305.93 175.92,308.05 176.89,304.18 173.83,301.62 177.81,301.35" fill="#0000ff"/>
<path d="M253.70 327.30H263.50M258.60 322.40V332.20" stroke="#ff4a4a" stroke-width="1.25" fill="none"/>
<path d="M253.70 330.30H263.50M258.60 325.40V335.20" stroke="#4a4aff" stroke-width="1.25" fill="none"/>
<polygon points="258.60,317.65 260.09,321.35 264.07,321.62 261.01,324.18 261.98,328.05 258.60,325.93 255.22,328.05 256.19,324.18 253.13,321.62 257.11,321.35" fill="#ff0000"/>
<polygon points="258.60,319.75 260.09,323.45 264.07,323.72 261.01,326.28 261.98,330.15 258.60,328.03 255.22,330.15 256.19,326.28 253.13,323.72 257.11,323.45" fill="#0000ff"/>
<path d="M369.60 269.70H379.40M374.50 264.80V274.60" stroke="#ff4a4a" stroke-width="1.25" fill="none"/>
<path d="M369.60 275.20H379.40M374.50 270.30V280.10" stroke="#4a4aff" stroke-width="1.25" fill="none"/>
<polygon points="374.50,277.75 375.99,281.45 379.97,281.72 376.91,284.28 377.88,288.15 374.50,286.03 371.12,288.15 372.09,284.28 369.03,281.72 373.01,281.45" fill="#ff0000"/>
<polygon points="374.50,281.55 375.99,285.25 379.97,285.52 376.91,288.08 377.88,291.95 374.50,289.83 371.12,291.95 372.09,288.08 369.03,285.52 373.01,285.25" fill="#0000ff"/>
<path d="M411.00 241.70H420.80M415.90 236.80V246.60" stroke="#ff4a4a" stroke-width="1.25" fill="none"/>
<path d="M411.00 248.90H420.80M415.90 244.00V253.80" stroke="#4a4aff" stroke-width="1.25" fill="none"/>
<polygon points="415.90,299.15 417.39,302.85 421.37,303.12 418.31,305.68 419.28,309.55 415.90,307.43 412.52,309.55 413.49,305.68 410.43,303.12 414.41,302.85" fill="#ff0000"/>
<polygon points="415.90,307.25 417.39,310.95 421.37,311.22 418.31,313.78 419.28,317.65 415.90,315.53 412.52,317.65 413.49,313.78 410.43,311.22 414.41,310.95" fill="#0000ff"/>
<path d="M446.10 264.00H455.90M451.00 259.10V268.90" stroke="#ff4a4a" stroke-width="1.25" fill="none"/>
<path d="M446.10 290.80H455.90M451.00 285.90V295.70" stroke="#4a4aff" stroke-width="1.25" fill="none"/>
<polygon points="451.00,310.55 452.49,314.25 456.47,314.52 453.41,317.08 454.38,320.95 451.00,318.83 447.62,320.95 448.59,317.08 445.53,314.52 449.51,314.25" fill="#ff0000"/>
<polygon points="451.00,309.85 452.49,313.55 456.47,313.82 453.41,316.38 454.38,320.25 451.00,318.13 447.62,320.25 448.59,316.38 445.53,313.82 449.51,313.55" fill="#0000ff"/>
<path d="M525.60 235.60H535.40M530.50 230.70V240.50" stroke="#ff4a4a" stroke-width="1.25" fill="none"/>
<path d="M525.60 215.40H535.40M530.50 210.50V220.30" stroke="#4a4aff" stroke-width="1.25" fill="none"/>
<polygon points="530.50,309.45 531.99,313.15 535.97,313.42 532.91,315.98 533.88,319.85 530.50,317.73 527.12,319.85 528.09,315.98 525.03,313.42 529.01,313.15" fill="#ff0000"/>
<polygon points="530.50,314.75 531.99,318.45 535.97,318.72 532.91,321.28 533.88,325.15 530.50,323.03 527.12,325.15 528.09,321.28 525.03,318.72 529.01,318.45" fill="#0000ff"/>
<path d="M97.60 405.10H107.40M102.50 400.20V410.00" stroke="#ff4a4a" stroke-width="1.25" fill="none"/>
<path d="M97.60 431.10H107.40M102.50 426.20V436.00" stroke="#4a4aff" stroke-width="1.25" fill="none"/>
<polygon points="102.50,378.75 103.99,382.45 107.97,382.72 104.91,385.28 105.88,389.15 102.50,387.03 99.12,389.15 100.09,385.28 97.03,382.72 101.01,382.45" fill="#ff0000"/>
<polygon points="102.50,393.85 103.99,397.55 107.97,397.82 104.91,400.38 105.88,404.25 102.50,402.13 99.12,404.25 100.09,400.38 97.03,397.82 101.01,397.55" fill="#0000ff"/>
<path d="M139.30 427.20H149.10M144.20 422.30V432.10" stroke="#ff4a4a" stroke-width="1.25" fill="none"/>
<path d="M139.30 454.60H149.10M144.20 449.70V459.50" stroke="#4a4aff" stroke-width="1.25" fill="none"/>
<polygon points="144.20,413.65 145.69,417.35 149.67,417.62 146.61,420.18 147.58,424.05 144.20,421.93 140.82,424.05 141.79,420.18 138.73,417.62 142.71,417.35" fill="#ff0000"/>
<polygon points="144.20,438.65 145.69,442.35 149.67,442.62 146.61,445.18 147.58,449.05 144.20,446.93 140.82,449.05 141.79,445.18 138.73,442.62 142.71,442.35" fill="#0000ff"/>
<path d="M174.30 479.50H184.10M179.20 474.60V484.40" stroke="#ff4a4a" stroke-width="1.25" fill="none"/>
<path d="M174.30 493.50H184.10M179.20 488.60V498.40" stroke="#4a4aff" stroke-width="1.25" fill="none"/>
<polygon points="179.20,469.25 180.69,472.95 184.67,473.22 181.61,475.78 182.58,479.65 179.20,477.53 175.82,479.65 176.79,475.78 173.73,473.22 177.71,472.95" fill="#ff0000"/>
<polygon points="179.20,485.65 180.69,489.35 184.67,489.62 181.61,492.18 182.58,496.05 179.20,493.93 175.82,496.05 176.79,492.18 173.73,489.62 177.71,489.35" fill="#0000ff"/>
<polygon points="258.60,495.65 260.09,499.35 264.07,499.62 261.01,502.18 261.98,506.05 258.60,503.93 255.22,506.05 256.19,502.18 253.13,499.62 257.11,499.35" fill="#ff0000"/>
<polygon points="258.60,499.75 260.09,503.45 264.07,503.72 261.01,506.28 261.98,510.15 258.60,508.03 255.22,510.15 256.19,506.28 253.13,503.72 257.11,503.45" fill="#0000ff"/>
<path d="M369.60 422.10H379.40M374.50 417.20V427.00" stroke="#ff4a4a" stroke-width="1.25" fill="none"/>
<path d="M369.60 425.90H379.40M374.50 421.00V430.80" stroke="#4a4aff" stroke-width="1.25" fill="none"/>
<polygon points="374.50,377.65 375.99,381.35 379.97,381.62 376.91,384.18 377.88,388.05 374.50,385.93 371.12,388.05 372.09,384.18 369.03,381.62 373.01,381.35" fill="#ff0000"/>
<polygon points="374.50,394.45 375.99,398.15 379.97,398.42 376.91,400.98 377.88,404.85 374.50,402.73 371.12,404.85 372.09,400.98 369.03,398.42 373.01,398.15" fill="#0000ff"/>
<path d="M410.90 472.60H420.70M415.80 467.70V477.50" stroke="#ff4a4a" stroke-width="1.25" fill="none"/>
<path d="M410.90 475.30H420.70M415.80 470.40V480.20" stroke="#4a4aff" stroke-width="1.25" fill="none"/>
<polygon points="415.80,461.95 417.29,465.65 421.27,465.92 418.21,468.48 419.18,472.35 415.80,470.23 412.42,472.35 413.39,468.48 410.33,465.92 414.31,465.65" fill="#ff0000"/>
<polygon points="415.80,465.75 417.29,469.45 421.27,469.72 418.21,472.28 419.18,476.15 415.80,474.03 412.42,476.15 413.39,472.28 410.33,469.72 414.31,469.45" fill="#0000ff"/>
<path d="M446.00 473.20H455.80M450.90 468.30V478.10" stroke="#ff4a4a" stroke-width="1.25" fill="none"/>
<path d="M446.00 477.30H455.80M450.90 472.40V482.20" stroke="#4a4aff" stroke-width="1.25" fill="none"/>
<polygon points="450.90,467.05 452.39,470.75 456.37,471.02 453.31,473.58 454.28,477.45 450.90,475.33 447.52,477.45 448.49,473.58 445.43,471.02 449.41,470.75" fill="#ff0000"/>
<polygon points="450.90,466.65 452.39,470.35 456.37,470.62 453.31,473.18 454.28,477.05 450.90,474.93 447.52,477.05 448.49,473.18 445.43,470.62 449.41,470.35" fill="#0000ff"/>
<path d="M525.70 430.50H535.50M530.60 425.60V435.40" stroke="#ff4a4a" stroke-width="1.25" fill="none"/>
<path d="M525.70 380.00H535.50M530.60 375.10V384.90" stroke="#4a4aff" stroke-width="1.25" fill="none"/>
<polygon points="530.60,433.25 532.09,436.95 536.07,437.22 533.01,439.78 533.98,443.65 530.60,441.53 527.22,443.65 528.19,439.78 525.13,437.22 529.11,436.95" fill="#ff0000"/>
<polygon points="530.60,419.75 532.09,423.45 536.07,423.72 533.01,426.28 533.98,430.15 530.60,428.03 527.22,430.15 528.19,426.28 525.13,423.72 529.11,423.45" fill="#0000ff"/>
</svg>
</body></html>
